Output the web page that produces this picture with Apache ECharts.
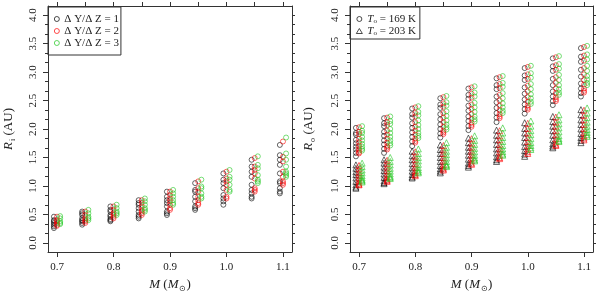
<!DOCTYPE html>
<html><head><meta charset="utf-8">
<script src="https://cdn.jsdelivr.net/npm/echarts@6/dist/echarts.min.js"></script>
<style>html,body{margin:0;padding:0;background:#fff}#c{width:600px;height:292px}</style>
</head><body><div id="c"></div>
<script>
// ---------- DATA ----------
const masses = [0.70, 0.75, 0.80, 0.85, 0.90, 0.95, 1.00, 1.05, 1.10];
const xTicks = [0.7, 0.8, 0.9, 1.0, 1.1];
const xTopTicks = [0.7, 0.75, 0.8, 0.85, 0.9, 0.95, 1.0, 1.05, 1.1];
const yTicks = [0.0, 0.5, 1.0, 1.5, 2.0, 2.5, 3.0, 3.5, 4.0];
const leftLegend = ['Δ Y/Δ Z = 1', 'Δ Y/Δ Z = 2', 'Δ Y/Δ Z = 3'];

// Left panel: R_i (AU), one list per mass
const riDY1 = [
  [0.46,0.40,0.38,0.35,0.32,0.29,0.26],
  [0.55,0.52,0.49,0.43,0.40,0.38,0.35,0.32],
  [0.64,0.58,0.55,0.49,0.46,0.42,0.40,0.38],
  [0.75,0.70,0.67,0.61,0.55,0.49,0.46,0.43],
  [0.90,0.81,0.75,0.70,0.64,0.55,0.52,0.49],
  [1.05,0.93,0.90,0.81,0.73,0.64,0.61,0.58],
  [1.22,1.11,1.05,0.96,0.84,0.78,0.73,0.67],
  [1.46,1.34,1.25,1.16,1.02,0.93,0.87,0.81,0.78],
  [1.72,1.54,1.46,1.37,1.22,1.08,1.05,0.96,0.90,0.87]
];
const riDY2 = [
  [0.46,0.40,0.38,0.35,0.32,0.30],
  [0.55,0.49,0.43,0.40,0.38,0.35],
  [0.64,0.58,0.52,0.49,0.46,0.43],
  [0.75,0.70,0.64,0.58,0.55,0.52,0.49],
  [0.90,0.84,0.78,0.73,0.67,0.61,0.58],
  [1.08,0.96,0.90,0.81,0.75,0.70,0.67],
  [1.25,1.13,1.08,1.02,0.93,0.81,0.78],
  [1.49,1.34,1.28,1.22,1.13,0.96,0.93,0.90],
  [1.78,1.51,1.43,1.25,1.16,1.08,1.05,1.02]
];
const riDY3 = [
  [0.47,0.43,0.38,0.35,0.33],
  [0.58,0.52,0.46,0.43,0.40],
  [0.67,0.61,0.55,0.52,0.49],
  [0.78,0.73,0.67,0.61,0.58,0.55],
  [0.93,0.87,0.81,0.75,0.70,0.67],
  [1.11,0.99,0.96,0.87,0.81,0.78],
  [1.28,1.16,1.11,1.02,0.93,0.90],
  [1.52,1.37,1.31,1.19,1.11,1.08,1.05],
  [1.85,1.57,1.46,1.34,1.25,1.22,1.19,1.16]
];

// Right panel: R_o (AU), T = 169 K (circles)
const ro169DY1 = [
  [2.02,1.93,1.90,1.81,1.75,1.69,1.64,1.58,1.52],
  [2.19,2.10,2.05,1.95,1.88,1.80,1.73,1.65,1.58],
  [2.36,2.26,2.20,2.10,2.02,1.94,1.86,1.78,1.70],
  [2.54,2.43,2.37,2.26,2.17,2.08,2.00,1.92,1.85],
  [2.71,2.60,2.53,2.41,2.32,2.22,2.14,2.05,1.98],
  [2.89,2.77,2.70,2.57,2.47,2.37,2.28,2.20,2.12],
  [3.07,2.94,2.86,2.73,2.62,2.52,2.43,2.35,2.27],
  [3.24,3.10,3.02,2.88,2.77,2.66,2.57,2.49,2.42],
  [3.42,3.27,3.18,3.04,2.92,2.80,2.71,2.63,2.57]
];
const ro169DY2 = [
  [2.03,1.95,1.91,1.83,1.77,1.71,1.66,1.62,1.59,1.57],
  [2.20,2.12,2.07,1.97,1.90,1.83,1.76,1.70,1.67,1.64],
  [2.38,2.28,2.22,2.12,2.04,1.97,1.90,1.83,1.79,1.76],
  [2.56,2.45,2.39,2.28,2.20,2.12,2.04,1.97,1.94,1.91],
  [2.73,2.62,2.55,2.43,2.35,2.26,2.18,2.11,2.07,2.04],
  [2.91,2.79,2.72,2.60,2.50,2.41,2.33,2.26,2.22,2.19],
  [3.09,2.96,2.88,2.76,2.66,2.56,2.48,2.41,2.37,2.34],
  [3.26,3.12,3.04,2.91,2.81,2.71,2.63,2.56,2.52,2.49],
  [3.44,3.29,3.20,3.07,2.96,2.86,2.78,2.71,2.67,2.64]
];
const ro169DY3 = [
  [2.05,1.97,1.93,1.86,1.80,1.74,1.69,1.65,1.62],
  [2.22,2.14,2.09,2.00,1.93,1.86,1.80,1.75,1.71],
  [2.40,2.30,2.24,2.15,2.07,2.00,1.93,1.88,1.84],
  [2.58,2.47,2.41,2.31,2.23,2.15,2.08,2.03,1.99],
  [2.75,2.64,2.57,2.46,2.38,2.30,2.22,2.17,2.13],
  [2.93,2.81,2.74,2.63,2.54,2.45,2.38,2.32,2.28],
  [3.11,2.98,2.90,2.79,2.70,2.61,2.54,2.48,2.44],
  [3.28,3.14,3.06,2.95,2.86,2.77,2.70,2.64,2.60],
  [3.46,3.31,3.22,3.11,3.02,2.93,2.87,2.81,2.77]
];
// Right panel: R_o (AU), T = 203 K (triangles)
const ro203DY1 = [
  [1.37,1.31,1.25,1.20,1.14,1.08,1.02,0.98,0.96],
  [1.46,1.40,1.33,1.27,1.21,1.15,1.09,1.06,1.04],
  [1.61,1.53,1.46,1.39,1.32,1.26,1.20,1.16,1.14],
  [1.72,1.64,1.57,1.50,1.43,1.36,1.30,1.26,1.23],
  [1.84,1.76,1.68,1.61,1.54,1.47,1.40,1.36,1.33],
  [1.98,1.89,1.81,1.73,1.65,1.58,1.51,1.46,1.43],
  [2.11,2.01,1.93,1.85,1.77,1.69,1.62,1.56,1.52],
  [2.22,2.13,2.05,1.97,1.89,1.81,1.74,1.70,1.67],
  [2.34,2.25,2.16,2.08,2.00,1.92,1.85,1.80,1.76]
];
const ro203DY2 = [
  [1.36,1.30,1.24,1.19,1.14,1.09,1.05,1.03,1.02],
  [1.45,1.39,1.33,1.27,1.21,1.16,1.12,1.10,1.08],
  [1.60,1.52,1.46,1.39,1.33,1.27,1.23,1.20,1.18],
  [1.71,1.63,1.57,1.50,1.44,1.38,1.33,1.30,1.28],
  [1.83,1.75,1.68,1.61,1.55,1.49,1.44,1.40,1.38],
  [1.97,1.88,1.81,1.73,1.66,1.60,1.54,1.50,1.48],
  [2.10,2.01,1.93,1.85,1.78,1.71,1.65,1.60,1.57],
  [2.21,2.12,2.05,1.97,1.90,1.83,1.77,1.73,1.71],
  [2.33,2.24,2.16,2.08,2.01,1.94,1.88,1.84,1.81]
];
const ro203DY3 = [
  [1.40,1.34,1.28,1.23,1.18,1.14,1.11,1.09,1.07],
  [1.50,1.43,1.37,1.31,1.26,1.21,1.17,1.15,1.13],
  [1.65,1.57,1.50,1.44,1.38,1.32,1.28,1.25,1.23],
  [1.76,1.68,1.61,1.55,1.49,1.43,1.38,1.36,1.34],
  [1.88,1.80,1.73,1.66,1.60,1.54,1.49,1.46,1.44],
  [2.02,1.93,1.85,1.78,1.71,1.65,1.60,1.56,1.54],
  [2.14,2.05,1.97,1.90,1.83,1.76,1.71,1.67,1.64],
  [2.25,2.16,2.09,2.02,1.95,1.88,1.83,1.80,1.78],
  [2.37,2.28,2.20,2.12,2.05,1.99,1.94,1.90,1.87]
];

// ---------- CHART ----------
const FONT = 'Liberation Serif';
const BLACK = '#000000', RED = '#ff0000', GREEN = '#1ec81e';
const AXC = '#333333';
const DODGE = 0.0055;

function pts(cols, k) {
  const out = [];
  cols.forEach((vals, i) => vals.forEach(v => out.push([masses[i] + k * DODGE, v])));
  return out;
}
const minorY = [];
for (let k = 0; k <= 24; k++) minorY.push(k / 6);

const rich = {
  it: { fontFamily: FONT, fontSize: 13, fontStyle: 'italic', lineHeight: 16 },
  sub: { fontFamily: FONT, fontSize: 8, lineHeight: 8, verticalAlign: 'bottom', padding: [0, 0, 0, 1] },
  n: { fontFamily: FONT, fontSize: 13, lineHeight: 16 }
};
const legRich = {
  it: { fontFamily: FONT, fontSize: 11, fontStyle: 'italic', lineHeight: 12 },
  sub: { fontFamily: FONT, fontSize: 7, lineHeight: 7, verticalAlign: 'bottom' },
  n: { fontFamily: FONT, fontSize: 11, lineHeight: 12 }
};

function xAxes(g) {
  return [{
    gridIndex: g, type: 'value', min: 0.684, max: 1.116, position: 'bottom',
    axisLine: { show: true, onZero: false, lineStyle: { color: AXC, width: 1 } },
    axisTick: { show: true, length: 5, customValues: xTicks, lineStyle: { color: AXC } },
    axisLabel: { customValues: xTicks, formatter: v => v.toFixed(1), margin: 10, fontFamily: FONT, fontSize: 11, color: '#222' },
    splitLine: { show: false },
    name: '{it|M} {n|(}{it|M}{sub|⊙}{n|)}', nameLocation: 'middle', nameGap: 25,
    nameTextStyle: { rich: rich, color: '#222' }
  }, {
    gridIndex: g, type: 'value', min: 0.684, max: 1.116, position: 'top',
    axisLine: { show: true, onZero: false, lineStyle: { color: AXC, width: 1 } },
    axisTick: { show: true, length: 4, customValues: xTopTicks, lineStyle: { color: AXC } },
    axisLabel: { show: false }, splitLine: { show: false }
  }];
}
function yAxes(g, nm, gap) {
  return [{
    gridIndex: g, type: 'value', min: -0.16, max: 4.16, position: 'left',
    axisLine: { show: true, onZero: false, lineStyle: { color: AXC, width: 1 } },
    axisTick: { show: true, length: 5, customValues: yTicks, lineStyle: { color: AXC } },
    axisLabel: { customValues: yTicks, rotate: 90, formatter: v => v.toFixed(1), margin: 9, fontFamily: FONT, fontSize: 11, color: '#222' },
    splitLine: { show: false },
    name: nm, nameLocation: 'middle', nameRotate: 90, nameGap: gap,
    nameTextStyle: { rich: rich, color: '#222' }
  }, {
    gridIndex: g, type: 'value', min: -0.16, max: 4.16, position: 'left',
    axisLine: { show: false, onZero: false },
    axisTick: { show: true, length: 3, customValues: minorY, lineStyle: { color: AXC } },
    axisLabel: { show: false }, splitLine: { show: false }
  }, {
    gridIndex: g, type: 'value', min: -0.16, max: 4.16, position: 'right',
    axisLine: { show: true, onZero: false, lineStyle: { color: AXC, width: 1 } },
    axisTick: { show: true, length: 3, customValues: minorY, lineStyle: { color: AXC } },
    axisLabel: { show: false }, splitLine: { show: false }
  }];
}

function sc(name, data, col, sym, xi, yi) {
  return {
    name: name, type: 'scatter', data: data, xAxisIndex: xi, yAxisIndex: yi,
    symbol: sym, symbolSize: sym === 'circle' ? 5 : 6,
    itemStyle: { color: 'rgba(0,0,0,0)', borderColor: col, borderWidth: 0.6, opacity: 1 },
    silent: true, animation: false, emphasis: { disabled: true }
  };
}

const option = {
  animation: false,
  backgroundColor: '#ffffff',
  grid: [
    { left: 48, top: 6, width: 244, height: 246, outerBoundsMode: 'none', containLabel: false },
    { left: 350, top: 6, width: 243, height: 246, outerBoundsMode: 'none', containLabel: false }
  ],
  xAxis: xAxes(0).concat(xAxes(1)),
  yAxis: yAxes(0, '{it|R}{sub|i} {n|(AU)}', 31).concat(yAxes(1, '{it|R}{sub|o} {n|(AU)}', 33)),
  legend: [{
    data: leftLegend, left: 48, top: 7, orient: 'vertical', icon: 'circle',
    itemWidth: 5, itemHeight: 5, itemGap: 0, selectedMode: false,
    itemStyle: { borderWidth: 0.7 },
    padding: [6, 2, 6, 6], borderColor: AXC, borderWidth: 1,
    textStyle: { fontFamily: FONT, fontSize: 11, lineHeight: 12, color: '#222' }
  }, {
    data: [{ name: 'T169', icon: 'circle' }, { name: 'T203', icon: 'triangle' }],
    left: 350, top: 7, orient: 'vertical',
    itemWidth: 6, itemHeight: 5, itemGap: 0, selectedMode: false,
    itemStyle: { borderWidth: 0.7 },
    padding: [6, 4, 2, 6], borderColor: AXC, borderWidth: 1,
    formatter: n => n === 'T169' ? '{it|T}{sub|o}{n| = 169 K}' : '{it|T}{sub|o}{n| = 203 K}',
    textStyle: { fontFamily: FONT, fontSize: 11, lineHeight: 12, color: '#222', rich: legRich }
  }],
  series: [
    sc(leftLegend[0], pts(riDY1, -1), BLACK, 'circle', 0, 0),
    sc(leftLegend[1], pts(riDY2, 0), RED, 'circle', 0, 0),
    sc(leftLegend[2], pts(riDY3, 1), GREEN, 'circle', 0, 0),
    sc('T203', pts(ro203DY1, -1), BLACK, 'triangle', 2, 3),
    sc('T203r', pts(ro203DY2, 0), RED, 'triangle', 2, 3),
    sc('T203g', pts(ro203DY3, 1), GREEN, 'triangle', 2, 3),
    sc('T169', pts(ro169DY1, -1), BLACK, 'circle', 2, 3),
    sc('T169r', pts(ro169DY2, 0), RED, 'circle', 2, 3),
    sc('T169g', pts(ro169DY3, 1), GREEN, 'circle', 2, 3)
  ]
};
const chart = echarts.init(document.getElementById('c'), null, { renderer: 'canvas' });
chart.setOption(option);
</script></body></html>
